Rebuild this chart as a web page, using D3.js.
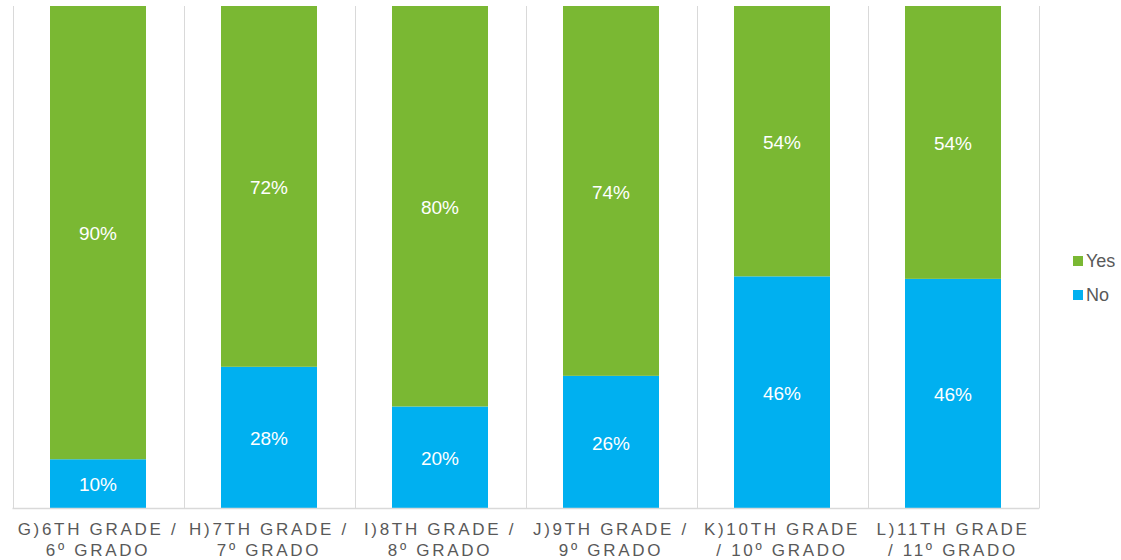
<!DOCTYPE html>
<html><head><meta charset="utf-8">
<script src="https://cdn.jsdelivr.net/npm/d3@7"></script>
<style>body{margin:0;background:#fff;}</style>
</head><body>
<svg id="chart" width="1121" height="560"></svg>
<script>
const categories = ["G)6TH GRADE / 6º GRADO","H)7TH GRADE / 7º GRADO","I)8TH GRADE / 8º GRADO","J)9TH GRADE / 9º GRADO","K)10TH GRADE / 10º GRADO","L)11TH GRADE / 11º GRADO"];
const categoryLines = [["G)6TH GRADE /","6º GRADO"],["H)7TH GRADE /","7º GRADO"],["I)8TH GRADE /","8º GRADO"],["J)9TH GRADE /","9º GRADO"],["K)10TH GRADE","/ 10º GRADO"],["L)11TH GRADE","/ 11º GRADO"]];
const noValues = [9.8, 28.2, 20.3, 26.4, 46.2, 45.7];
const yesValues = [90.2, 71.8, 79.7, 73.6, 53.8, 54.3];
const seriesNames = ["No", "Yes"];
const colors = {No: "#00B0F0", Yes: "#7AB833"};

(function(){
const svg = d3.select("#chart");
const pLeft = 12.5, pRight = 1038.5, pTop = 6, pBottom = 508.5;
const x = d3.scaleBand().domain(categories).range([pLeft, pRight]).paddingInner(0).paddingOuter(0);
const barW = 96;
const y = d3.scaleLinear().domain([0, 100]).range([pBottom, pTop]);

const data = categories.map((c, i) => ({cat: c, No: noValues[i], Yes: yesValues[i]}));
const stack = d3.stack().keys(seriesNames)(data);

// separators
const bounds = categories.map(c => x(c)).concat([pRight]);
svg.append("g").selectAll("line").data(bounds).join("line")
  .attr("x1", d => Math.round(d) + 0.5).attr("x2", d => Math.round(d) + 0.5)
  .attr("y1", pTop).attr("y2", pBottom)
  .attr("stroke", "#d9d9d9").attr("stroke-width", 1);

const g = svg.append("g");
stack.forEach(s => {
  g.append("g").selectAll("rect").data(s).join("rect")
    .attr("x", d => x(d.data.cat) + (x.bandwidth() - barW) / 2)
    .attr("width", barW)
    .attr("y", d => y(d[1]))
    .attr("height", d => y(d[0]) - y(d[1]))
    .attr("fill", colors[s.key]);
  g.append("g").selectAll("text").data(s).join("text")
    .attr("x", d => x(d.data.cat) + x.bandwidth() / 2)
    .attr("y", d => (y(d[0]) + y(d[1])) / 2)
    .attr("dy", "0.4em")
    .attr("text-anchor", "middle")
    .attr("fill", "#fff")
    .attr("font-family", "Liberation Sans, Arial, sans-serif")
    .attr("font-size", 19)
    .text(d => Math.round(d[1] - d[0]) + "%");
});

// x axis line
svg.append("line").attr("x1", pLeft).attr("x2", pRight + 0.5).attr("y1", pBottom).attr("y2", pBottom)
  .attr("stroke", "#d9d9d9").attr("stroke-width", 1.5);

// category labels
const lab = svg.append("g");
categories.forEach((c, i) => {
  const t = lab.append("text")
    .attr("x", x(c) + x.bandwidth() / 2)
    .attr("y", 535)
    .attr("text-anchor", "middle")
    .attr("fill", "#595959")
    .attr("font-family", "Liberation Sans, Arial, sans-serif")
    .attr("font-size", 17)
    .attr("letter-spacing", "2.7px");
  categoryLines[i].forEach((ln, j) => {
    t.append("tspan").attr("x", x(c) + x.bandwidth() / 2).attr("dy", j === 0 ? 0 : 21).text(ln);
  });
});

// legend
const legendOrder = ["Yes", "No"];
const lg = svg.append("g");
legendOrder.forEach((k, i) => {
  const yy = 261 + i * 34;
  lg.append("rect").attr("x", 1073).attr("y", yy - 5).attr("width", 10).attr("height", 10).attr("fill", colors[k]);
  lg.append("text").attr("x", 1086).attr("y", yy).attr("dy", "0.35em")
    .attr("fill", "#595959").attr("font-family", "Liberation Sans, Arial, sans-serif")
    .attr("font-size", 18).text(k);
});
})();
</script>
</body></html>
